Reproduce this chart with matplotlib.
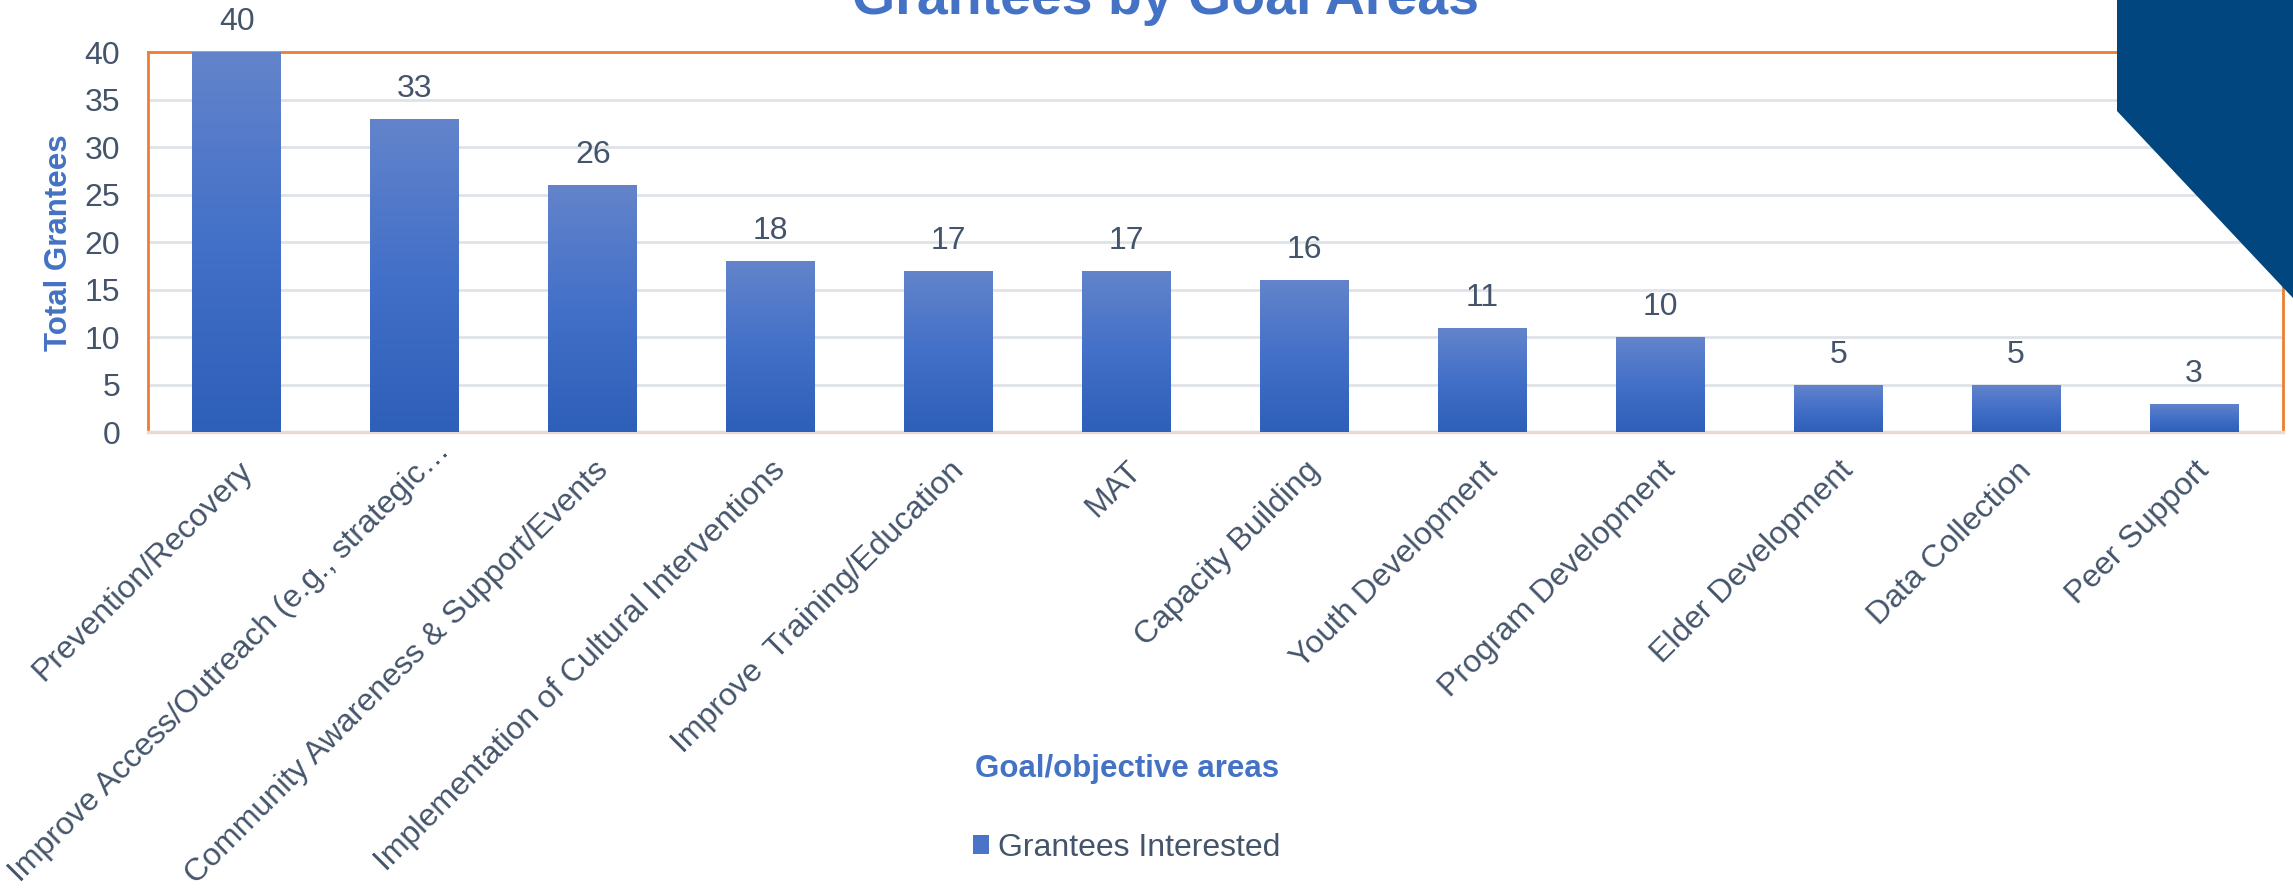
"""Grantees by goal areas bar chart."""

import matplotlib
matplotlib.use("Agg")
import matplotlib.pyplot as plt
import numpy as np
from matplotlib.colors import LinearSegmentedColormap
from matplotlib.patches import Patch, Polygon
from matplotlib.transforms import ScaledTranslation

categories = [
    "Prevention/Recovery",
    "Improve Access/Outreach (e.g., strategic\u2026",
    "Community Awareness & Support/Events",
    "Implementation of Cultural Interventions",
    "Improve  Training/Education",
    "MAT",
    "Capacity Building",
    "Youth Development",
    "Program Development",
    "Elder Development",
    "Data Collection",
    "Peer Support",
]
grantees = [40, 33, 26, 18, 17, 17, 16, 11, 10, 5, 5, 3]
y_ticks = [0, 5, 10, 15, 20, 25, 30, 35, 40]

TEXT = "#44546a"
BLUE = "#4472c4"
ORANGE = "#ed7d31"
NAVY = "#02467f"

plt.rcParams["font.family"] = ["Liberation Sans", "DejaVu Sans"]

W, H = 2293, 896
fig = plt.figure(figsize=(W / 100, H / 100), dpi=100)

# dark corner shape behind the plot area
corner = Polygon(
    [(2117 / W, 1), (1, 1), (1, 1 - 298 / H), (2117 / W, 1 - 111 / H)],
    closed=True, transform=fig.transFigure, facecolor=NAVY, edgecolor="none", zorder=0,
)
fig.patches.append(corner)

ax = fig.add_axes([148 / W, 1 - 432 / H, (2283 - 148) / W, (432 - 52) / H])
ax.set_facecolor("none")

x = np.arange(len(categories))
bars = ax.bar(x, grantees, width=0.5, color="none", edgecolor="none", zorder=3)

# vertical gradient fill on each bar
cmap = LinearSegmentedColormap.from_list("bar", ["#2e5fb9", "#4370c8", "#6384cb"])
grad = np.linspace(0, 1, 256).reshape(-1, 1)
for b in bars:
    x0, y0 = b.get_x(), b.get_y()
    im = ax.imshow(
        grad, cmap=cmap, origin="lower", aspect="auto",
        extent=[x0, x0 + b.get_width(), y0, y0 + b.get_height()], zorder=3,
    )
    im.set_clip_path(b)

for xi, v in zip(x, grantees):
    ax.annotate(str(v), (xi, v), xytext=(0, 21.5), textcoords="offset points",
                ha="center", va="center", fontsize=23, color=TEXT)

ax.set_xlim(-0.5, len(categories) - 0.5)
ax.set_ylim(0, 40)
ax.set_yticks(y_ticks)
ax.set_xticks(x)
ax.set_xticklabels(categories, rotation=45, ha="right", rotation_mode="anchor",
                   fontsize=23, color=TEXT)
ax.tick_params(axis="both", length=0, labelsize=23, labelcolor=TEXT)
ax.tick_params(axis="y", pad=20)
ax.tick_params(axis="x", pad=17)

# the truncated label sits a little higher along its slope
long_label = ax.get_xticklabels()[1]
long_label.set_transform(long_label.get_transform()
                         + ScaledTranslation(0.2, 0.2, fig.dpi_scale_trans))

ax.grid(axis="y", color="#dfe3e8", linewidth=2, zorder=1)
ax.set_axisbelow(True)

for side in ["left", "top", "right"]:
    ax.spines[side].set_color(ORANGE)
    ax.spines[side].set_linewidth(2)
ax.spines["bottom"].set_color("#e8dad2")
ax.spines["bottom"].set_linewidth(2.5)

fig.text(1166 / W, 1 - 13.5 / H, "Grantees by Goal Areas", ha="center", va="baseline",
         fontsize=40, fontweight="bold", color=BLUE)
fig.text(59 / W, 1 - 243 / H, "Total Grantees", rotation=90, ha="center", va="center",
         fontsize=22.5, fontweight="bold", color=BLUE)
fig.text(1127 / W, 1 - 769 / H, "Goal/objective areas", ha="center", va="center",
         fontsize=22.5, fontweight="bold", color=BLUE)

fig.legend(
    handles=[Patch(facecolor="#4a74c6", edgecolor="none", label="Grantees Interested")],
    loc="center left", bbox_to_anchor=(973 / W, 1 - 848 / H), frameon=False,
    borderpad=0, borderaxespad=0,
    fontsize=23, labelcolor=TEXT, handlelength=0.5, handleheight=0.55, handletextpad=0.28,
)

fig.savefig("out.png", dpi=100)
